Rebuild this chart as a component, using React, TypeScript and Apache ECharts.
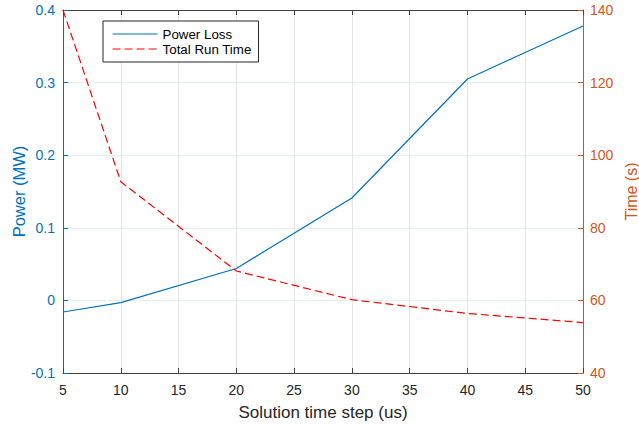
import React, { useEffect, useRef } from "react";
import * as echarts from "echarts";

const timeSteps = [5, 10, 20, 30, 40, 50];
const powerLoss = [-0.016, -0.003, 0.044, 0.141, 0.305, 0.378];
const runTime = [140, 92.7, 68.1, 60.2, 56.4, 53.9];

const xTicks = { min: 5, max: 50, interval: 5 };
const powerTicks = { min: -0.1, max: 0.4, interval: 0.1 };
const timeTicks = { min: 40, max: 140, interval: 20 };

const BLUE = "#0072BD";
const ORANGE = "#D95319";
const AXIS = "#404040";
const FONT = "Liberation Sans, Arial, Helvetica, sans-serif";

export default function App() {
  const ref = useRef<HTMLDivElement>(null);
  useEffect(() => {
    if (!ref.current) return;
    const chart = echarts.init(ref.current, undefined, { renderer: "svg" });
    chart.setOption({
      animation: false,
      backgroundColor: "#ffffff",
      textStyle: { fontFamily: FONT },
      grid: {
        left: 63,
        right: 56,
        top: 10,
        bottom: 52,
        containLabel: false,
        outerBoundsMode: "none",
      },
      legend: {
        orient: "vertical",
        left: 103,
        top: 21,
        padding: [5.5, 7, 5.5, 9],
        itemWidth: 45,
        itemHeight: 15,
        itemGap: 0,
        borderColor: "#262626",
        borderWidth: 1,
        backgroundColor: "#ffffff",
        itemStyle: { opacity: 0, borderWidth: 0 },
        lineStyle: { width: 1.2 },
        textStyle: { fontFamily: FONT, fontSize: 13.3, color: "#000000", lineHeight: 15 },
        data: ["Power Loss", "Total Run Time"],
      },
      xAxis: [
        {
          type: "value",
          position: "bottom",
          ...xTicks,
          name: "Solution time step (us)",
          nameLocation: "middle",
          nameGap: 31,
          nameMoveOverlap: false,
          nameTextStyle: { fontFamily: FONT, fontSize: 17, color: "#262626" },
          axisLine: { show: true, onZero: false, lineStyle: { color: AXIS, width: 1 } },
          axisTick: { show: true, inside: true, length: 5, lineStyle: { color: AXIS } },
          axisLabel: { fontFamily: FONT, fontSize: 14, color: "#262626", margin: 10 },
          splitLine: { show: true, lineStyle: { color: "#e6e6e6", width: 1 } },
        },
        {
          type: "value",
          position: "top",
          ...xTicks,
          axisLine: { show: true, onZero: false, lineStyle: { color: AXIS, width: 1 } },
          axisTick: { show: true, inside: true, length: 5, lineStyle: { color: AXIS } },
          axisLabel: { show: false },
          splitLine: { show: false },
        },
      ],
      yAxis: [
        {
          type: "value",
          position: "left",
          ...powerTicks,
          name: "Power (MW)",
          nameLocation: "middle",
          nameRotate: 90,
          nameGap: 36,
          nameMoveOverlap: false,
          nameTextStyle: { fontFamily: FONT, fontSize: 16.5, color: BLUE },
          axisLine: { show: true, onZero: false, lineStyle: { color: BLUE, width: 1 } },
          axisTick: { show: true, inside: true, length: 5, lineStyle: { color: BLUE } },
          axisLabel: {
            fontFamily: FONT,
            fontSize: 14,
            color: BLUE,
            margin: 8,
            formatter: (v: number) => String(parseFloat(v.toFixed(2))),
          },
          splitLine: { show: true, lineStyle: { color: "#e3eef7", width: 1 } },
        },
        {
          type: "value",
          position: "right",
          ...timeTicks,
          name: "Time (s)",
          nameLocation: "middle",
          nameRotate: 90,
          nameGap: 40,
          nameMoveOverlap: false,
          nameTextStyle: { fontFamily: FONT, fontSize: 16, color: ORANGE },
          axisLine: { show: true, onZero: false, lineStyle: { color: ORANGE, width: 1 } },
          axisTick: { show: true, inside: true, length: 5, lineStyle: { color: ORANGE } },
          axisLabel: { fontFamily: FONT, fontSize: 14, color: ORANGE, margin: 7 },
          splitLine: { show: false },
        },
      ],
      series: [
        {
          name: "Power Loss",
          type: "line",
          xAxisIndex: 0,
          yAxisIndex: 0,
          symbol: "none",
          color: BLUE,
          lineStyle: { color: BLUE, width: 1.2 },
          data: timeSteps.map((x, i) => [x, powerLoss[i]]),
        },
        {
          name: "Total Run Time",
          type: "line",
          xAxisIndex: 0,
          yAxisIndex: 1,
          symbol: "none",
          color: "#ff0000",
          lineStyle: { color: "#ff0000", width: 1.2, type: [8, 4] },
          data: timeSteps.map((x, i) => [x, runTime[i]]),
        },
      ],
    });
    return () => chart.dispose();
  }, []);
  return (
    <div
      ref={ref}
      style={{ position: "fixed", left: 0, top: 0, width: 639, height: 425 }}
    />
  );
}
